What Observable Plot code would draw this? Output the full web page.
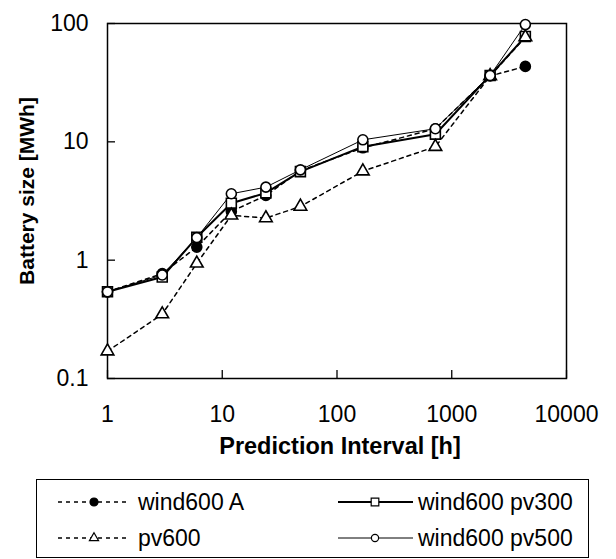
<!DOCTYPE html>
<html><head><meta charset="utf-8">
<script src="https://cdn.jsdelivr.net/npm/d3@7"></script>
<script src="https://cdn.jsdelivr.net/npm/@observablehq/plot@0.6"></script>
<style>
body{margin:0;background:#fff;}
#wrap{position:relative;width:616px;height:559px;font-family:Arial,"Liberation Sans",sans-serif;background:#fff;}
#legend{position:absolute;left:0;top:470px;}
</style></head><body><div id="wrap"></div>
<script>
// ---- data ----
const intervals = [1, 3, 6, 12, 24, 48, 168, 720, 2160, 4380];
const wind600A = [0.54, 0.77, 1.29, 2.58, 3.52, 5.7, 8.9, 12.9, 36, 43.4];
const pv600 = [0.17, 0.35, 0.94, 2.39, 2.27, 2.84, 5.65, 9.1, 36, 76.7];
const wind600pv300 = [0.54, 0.72, 1.56, 3.03, 3.7, 5.6, 9.1, 11.6, 36.4, 77.8];
const wind600pv500 = [0.54, 0.75, 1.55, 3.64, 4.14, 5.8, 10.4, 12.9, 36.4, 98];
const seriesNames = ["wind600 A", "pv600", "wind600 pv300", "wind600 pv500"];
const seriesValues = [wind600A, pv600, wind600pv300, wind600pv500];
const xTicks = [1, 10, 100, 1000, 10000];
const yTicks = [0.1, 1, 10, 100];
const xTitle = "Prediction Interval [h]";
const yTitle = "Battery size [MWh]";

// ---- styles ----
const styles = {
  "wind600 A":     {dash: "4,4", width: 1.5, symbol: "circle",   r: 5,   fill: "#000", lr: 4},
  "pv600":         {dash: "4,4", width: 1.5, symbol: "triangle", r: 4.7, fill: "#fff", lr: 3.4},
  "wind600 pv300": {dash: null,  width: 2,   symbol: "square",   r: 5.6, fill: "#fff", lr: 4.3},
  "wind600 pv500": {dash: null,  width: 1,   symbol: "circle",   r: 5,   fill: "#fff", lr: 3.6}
};
const drawOrder = ["wind600 A", "wind600 pv300", "pv600", "wind600 pv500"];

const rows = seriesNames.map((name, k) => intervals.map((x, i) => ({series: name, x, y: seriesValues[k][i]})));
const bySeries = Object.fromEntries(seriesNames.map((n, k) => [n, rows[k]]));

const font = 'Arial, "Liberation Sans", sans-serif';
const marks = [
  Plot.frame({stroke: "#000", strokeWidth: 1.5}),
  Plot.axisX({ticks: xTicks, tickSize: -8, tickPadding: 35, tickFormat: d => String(d), label: null, fontSize: 23, strokeWidth: 1.3}),
  Plot.axisY({ticks: yTicks, tickSize: -8, tickPadding: 27, tickFormat: d => String(d), label: null, fontSize: 23, strokeWidth: 1.3}),
  Plot.text([xTitle], {text: d => d, frameAnchor: "bottom", dx: 3, dy: 75, textAnchor: "middle", fontWeight: "bold", fontSize: 23.5, fill: "#000"}),
  Plot.text([yTitle], {text: d => d, frameAnchor: "left", dx: -80, dy: -10, rotate: -90, textAnchor: "middle", fontWeight: "bold", fontSize: 21, fill: "#000"})
];
for (const name of drawOrder) {
  const st = styles[name];
  marks.push(Plot.line(bySeries[name], {x: "x", y: "y", stroke: "#000", strokeWidth: st.width, strokeDasharray: st.dash}));
}
for (const name of drawOrder) {
  const st = styles[name];
  marks.push(Plot.dot(bySeries[name], {x: "x", y: "y", symbol: st.symbol, r: st.r, fill: st.fill, stroke: "#000", strokeWidth: 1.6}));
}

const chart = Plot.plot({
  width: 616, height: 470,
  marginLeft: 107, marginRight: 50, marginTop: 23, marginBottom: 92,
  x: {type: "log", domain: [1, 10000]},
  y: {type: "log", domain: [0.1, 100]},
  style: {fontFamily: font, color: "#000", background: "#fff", overflow: "visible"},
  marks
});
document.getElementById("wrap").appendChild(chart);

// ---- legend ----
const leg = d3.select("#wrap").append("svg").attr("id", "legend").attr("width", 616).attr("height", 89)
  .style("font-family", font);
leg.append("rect").attr("x", 36.5).attr("y", 9.5).attr("width", 552).attr("height", 78)
  .attr("fill", "none").attr("stroke", "#000").attr("stroke-width", 1);
const legendLayout = [
  {name: "wind600 A", x0: 58, x1: 130, mx: 94, tx: 138, y: 32},
  {name: "pv600", x0: 58, x1: 130, mx: 94, tx: 138, y: 68},
  {name: "wind600 pv300", x0: 338, x1: 413, mx: 375, tx: 418, y: 32},
  {name: "wind600 pv500", x0: 338, x1: 413, mx: 375, tx: 418, y: 68}
];
const symbolMap = {circle: d3.symbolCircle, triangle: d3.symbolTriangle, square: d3.symbolSquare};
for (const it of legendLayout) {
  const st = styles[it.name];
  leg.append("line").attr("x1", it.x0).attr("x2", it.x1).attr("y1", it.y).attr("y2", it.y)
    .attr("stroke", "#000").attr("stroke-width", st.width).attr("stroke-dasharray", st.dash);
  leg.append("path").attr("d", d3.symbol(symbolMap[st.symbol], Math.PI * st.lr * st.lr)())
    .attr("transform", `translate(${it.mx},${it.y})`)
    .attr("fill", st.fill).attr("stroke", "#000").attr("stroke-width", 1.2);
  leg.append("text").attr("x", it.tx).attr("y", it.y).attr("dy", "0.35em")
    .attr("font-size", 23).attr("fill", "#000").text(it.name);
}
</script></body></html>
